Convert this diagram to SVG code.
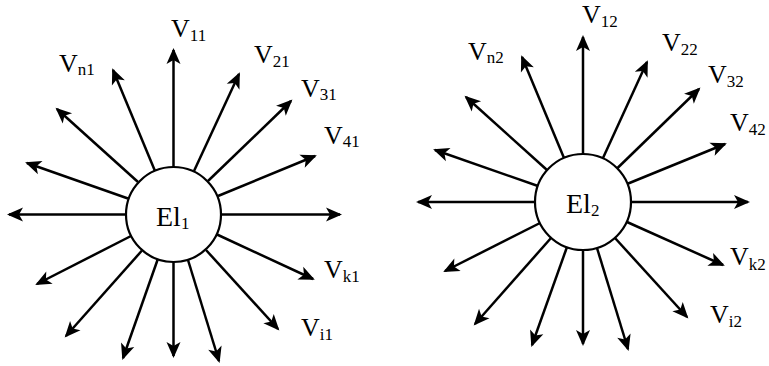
<svg xmlns="http://www.w3.org/2000/svg" width="769" height="366" viewBox="0 0 769 366">
<style>
.c{stroke:#000;stroke-width:2.5;fill:none;marker-end:url(#ah)}
.n{fill:#fff;stroke:#000;stroke-width:2.2}
.t{font-family:"Liberation Serif","Times New Roman",serif;font-size:26px;fill:#000}
.e{font-family:"Liberation Serif","Times New Roman",serif;font-size:28px;fill:#000}
.s{font-size:17px}
</style>
<defs>
<marker id="ah" markerUnits="userSpaceOnUse" markerWidth="22" markerHeight="18" refX="0" refY="0" viewBox="-18 -9 22 18" orient="auto">
<path d="M2,0 L-14,-7 L-10,0 L-14,7 Z" fill="#000"/>
</marker>
</defs>
<rect width="769" height="366" fill="#fff"/>
<g id="connectors">
<line class="c" x1="173.5" y1="167" x2="173.5" y2="50"/>
<line class="c" x1="155" y1="171" x2="113" y2="70"/>
<line class="c" x1="138" y1="182" x2="57" y2="109"/>
<line class="c" x1="128" y1="198.5" x2="27" y2="163"/>
<line class="c" x1="126" y1="214.5" x2="9" y2="214.5"/>
<line class="c" x1="131" y1="236" x2="37" y2="284"/>
<line class="c" x1="142" y1="250.5" x2="66" y2="336"/>
<line class="c" x1="157.5" y1="260" x2="123" y2="358"/>
<line class="c" x1="173.5" y1="262" x2="173.5" y2="356"/>
<line class="c" x1="188" y1="260" x2="219" y2="361"/>
<line class="c" x1="206" y1="250" x2="278" y2="329"/>
<line class="c" x1="217" y1="234.5" x2="313" y2="279"/>
<line class="c" x1="221" y1="214.5" x2="340" y2="214.5"/>
<line class="c" x1="218" y1="196" x2="315" y2="156"/>
<line class="c" x1="208" y1="181" x2="291" y2="101"/>
<line class="c" x1="194" y1="171" x2="239" y2="74"/>

<line class="c" x1="583" y1="155" x2="583" y2="37"/>
<line class="c" x1="564" y1="158" x2="522" y2="57"/>
<line class="c" x1="547" y1="170" x2="466" y2="97"/>
<line class="c" x1="538" y1="186" x2="435" y2="150"/>
<line class="c" x1="535" y1="202" x2="418" y2="202"/>
<line class="c" x1="540" y1="223" x2="445" y2="271"/>
<line class="c" x1="551" y1="238" x2="475" y2="324"/>
<line class="c" x1="567" y1="247" x2="532" y2="345"/>
<line class="c" x1="583" y1="249" x2="583" y2="344"/>
<line class="c" x1="597" y1="248" x2="628" y2="349"/>
<line class="c" x1="615" y1="238" x2="687" y2="317"/>
<line class="c" x1="627" y1="222" x2="723" y2="265"/>
<line class="c" x1="631" y1="202" x2="748" y2="202"/>
<line class="c" x1="627" y1="184" x2="725" y2="144"/>
<line class="c" x1="617" y1="168.5" x2="699" y2="89"/>
<line class="c" x1="603" y1="158" x2="647" y2="62"/>
</g>
<g id="labels">
<text class="t" x="171" y="37">V<tspan class="s" dy="4">11</tspan></text>
<text class="t" x="59" y="72">V<tspan class="s" dy="3">n1</tspan></text>
<text class="t" x="254" y="63">V<tspan class="s" dy="4">21</tspan></text>
<text class="t" x="301" y="97">V<tspan class="s" dy="3">31</tspan></text>
<text class="t" x="324" y="144">V<tspan class="s" dy="3">41</tspan></text>
<text class="t" x="324" y="278">V<tspan class="s" dy="4">k1</tspan></text>
<text class="t" x="301" y="336">V<tspan class="s" dy="4">i1</tspan></text>
<text class="t" x="582" y="23">V<tspan class="s" dy="4">12</tspan></text>
<text class="t" x="468" y="60">V<tspan class="s" dy="3">n2</tspan></text>
<text class="t" x="662" y="51">V<tspan class="s" dy="4">22</tspan></text>
<text class="t" x="708" y="83">V<tspan class="s" dy="4">32</tspan></text>
<text class="t" x="730" y="131">V<tspan class="s" dy="4">42</tspan></text>
<text class="t" x="730" y="265">V<tspan class="s" dy="5">k2</tspan></text>
<text class="t" x="710" y="323">V<tspan class="s" dy="4">i2</tspan></text>
</g>
<g id="El1">
<circle class="n" cx="173.5" cy="214.5" r="47.5"/>
<text class="e" x="156" y="226">El<tspan class="s" dy="3">1</tspan></text>
</g>
<g id="El2">
<circle class="n" cx="583" cy="202" r="48"/>
<text class="e" x="566" y="213">El<tspan class="s" dy="3">2</tspan></text>
</g>
</svg>
